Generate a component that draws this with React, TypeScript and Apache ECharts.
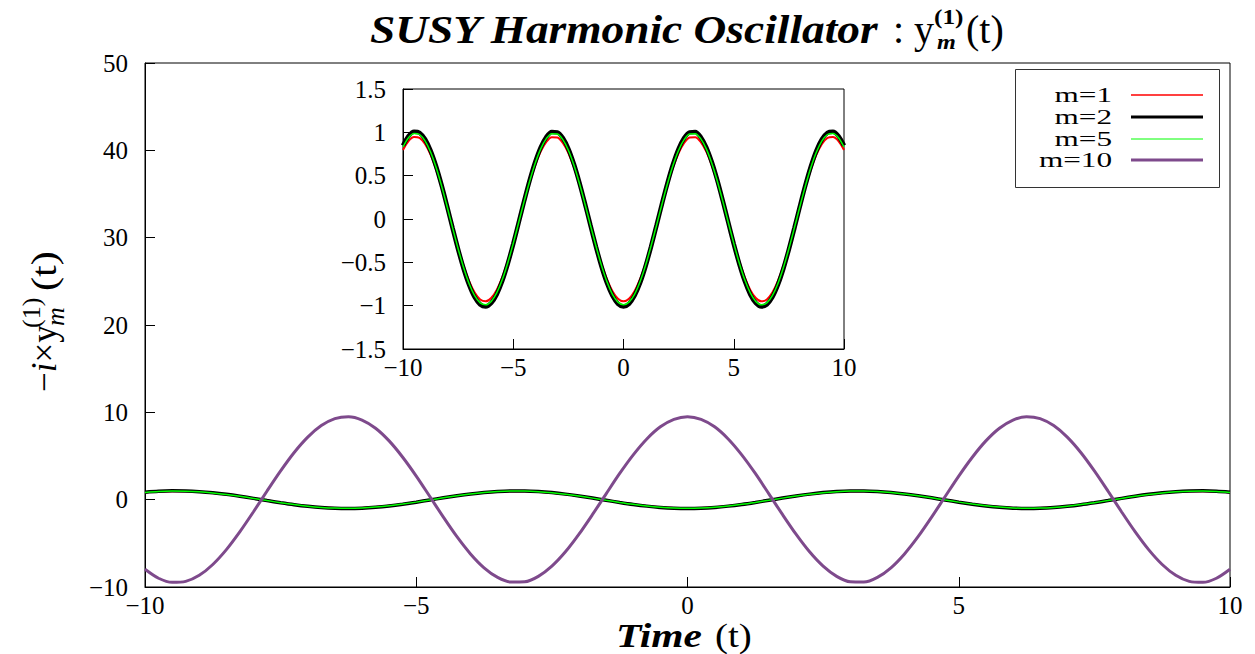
import React, { useEffect, useRef } from "react";
import * as echarts from "echarts";

// time samples (t)
const tValues = [-10, -9.75, -9.5, -9.25, -9, -8.75, -8.5, -8.25, -8, -7.75, -7.5, -7.25, -7, -6.75, -6.5, -6.25, -6, -5.75, -5.5, -5.25, -5, -4.75, -4.5, -4.25, -4, -3.75, -3.5, -3.25, -3, -2.75, -2.5, -2.25, -2, -1.75, -1.5, -1.25, -1, -0.75, -0.5, -0.25, 0, 0.25, 0.5, 0.75, 1, 1.25, 1.5, 1.75, 2, 2.25, 2.5, 2.75, 3, 3.25, 3.5, 3.75, 4, 4.25, 4.5, 4.75, 5, 5.25, 5.5, 5.75, 6, 6.25, 6.5, 6.75, 7, 7.25, 7.5, 7.75, 8, 8.25, 8.5, 8.75, 9, 9.25, 9.5, 9.75, 10];
// m = 1 (red)
const m1Values = [0.797, 0.9, 0.947, 0.936, 0.866, 0.742, 0.572, 0.366, 0.138, -0.099, -0.329, -0.54, -0.716, -0.848, -0.928, -0.95, -0.912, -0.818, -0.673, -0.486, -0.27, -0.036, 0.2, 0.424, 0.621, 0.78, 0.89, 0.944, 0.941, 0.878, 0.761, 0.597, 0.395, 0.169, -0.067, -0.3, -0.513, -0.695, -0.834, -0.92, -0.95, -0.92, -0.834, -0.695, -0.513, -0.3, -0.067, 0.169, 0.395, 0.597, 0.761, 0.878, 0.941, 0.944, 0.89, 0.78, 0.621, 0.424, 0.2, -0.036, -0.27, -0.486, -0.673, -0.818, -0.912, -0.95, -0.928, -0.848, -0.716, -0.54, -0.329, -0.099, 0.138, 0.366, 0.572, 0.742, 0.866, 0.936, 0.947, 0.9, 0.797];
// m = 2 (black)
const m2Values = [0.847, 0.957, 1.007, 0.995, 0.92, 0.789, 0.608, 0.39, 0.147, -0.105, -0.35, -0.574, -0.761, -0.902, -0.986, -1.01, -0.97, -0.87, -0.716, -0.517, -0.287, -0.038, 0.213, 0.451, 0.66, 0.829, 0.946, 1.004, 1.0, 0.934, 0.809, 0.634, 0.42, 0.18, -0.071, -0.318, -0.546, -0.739, -0.886, -0.979, -1.01, -0.979, -0.886, -0.739, -0.546, -0.318, -0.071, 0.18, 0.42, 0.634, 0.809, 0.934, 1.0, 1.004, 0.946, 0.829, 0.66, 0.451, 0.213, -0.038, -0.287, -0.517, -0.716, -0.87, -0.97, -1.01, -0.986, -0.902, -0.761, -0.574, -0.35, -0.105, 0.147, 0.39, 0.608, 0.789, 0.92, 0.995, 1.007, 0.957, 0.847];
// m = 5 (green)
const m5Values = [0.831, 0.938, 0.987, 0.975, 0.902, 0.773, 0.596, 0.382, 0.144, -0.103, -0.343, -0.562, -0.746, -0.884, -0.967, -0.99, -0.951, -0.853, -0.702, -0.507, -0.281, -0.037, 0.209, 0.442, 0.647, 0.812, 0.927, 0.984, 0.98, 0.915, 0.793, 0.622, 0.412, 0.176, -0.07, -0.312, -0.535, -0.724, -0.869, -0.959, -0.99, -0.959, -0.869, -0.724, -0.535, -0.312, -0.07, 0.176, 0.412, 0.622, 0.793, 0.915, 0.98, 0.984, 0.927, 0.812, 0.647, 0.442, 0.209, -0.037, -0.281, -0.507, -0.702, -0.853, -0.951, -0.99, -0.967, -0.884, -0.746, -0.562, -0.343, -0.103, 0.144, 0.382, 0.596, 0.773, 0.902, 0.975, 0.987, 0.938, 0.831];
// m = 10 (purple)
const m10Values = [-7.97, -9.0, -9.47, -9.36, -8.66, -7.42, -5.72, -3.66, -1.38, 0.99, 3.29, 5.4, 7.16, 8.48, 9.28, 9.5, 9.12, 8.18, 6.73, 4.86, 2.7, 0.36, -2.0, -4.24, -6.21, -7.8, -8.9, -9.44, -9.41, -8.78, -7.61, -5.97, -3.95, -1.69, 0.67, 3.0, 5.13, 6.95, 8.34, 9.2, 9.5, 9.2, 8.34, 6.95, 5.13, 3.0, 0.67, -1.69, -3.95, -5.97, -7.61, -8.78, -9.41, -9.44, -8.9, -7.8, -6.21, -4.24, -2.0, 0.36, 2.7, 4.86, 6.73, 8.18, 9.12, 9.5, 9.28, 8.48, 7.16, 5.4, 3.29, 0.99, -1.38, -3.66, -5.72, -7.42, -8.66, -9.36, -9.47, -9.0, -7.97];

const legendNames = ["m=1", "m=2", "m=5", "m=10"];
const seriesColors = ["#ff0000", "#000000", "#00ff00", "#7e4a8c"];

const mainXRange = [-10, 10, 5];
const mainYRange = [-10, 50, 10];
const insetXRange = [-10, 10, 5];
const insetYRange = [-1.5, 1.5, 0.5];

const SERIF = "'Liberation Serif', 'DejaVu Serif', serif";
const fmt = (v: number) => String(v).replace("-", "\u2212");
const pairs = (ys: number[]) => tValues.map((t, i) => [t, ys[i]]);

function axis(gridIndex: number, r: number[], margin: number) {
  return {
    type: "value",
    gridIndex,
    min: r[0],
    max: r[1],
    interval: r[2],
    axisLine: { show: true, onZero: false, lineStyle: { color: "#000", width: 1 } },
    axisTick: { show: true, inside: true, length: 10, lineStyle: { color: "#000", width: 1 } },
    axisLabel: {
      formatter: fmt,
      color: "#000",
      fontFamily: SERIF,
      fontSize: 25,
      margin,
      showMinLabel: true,
      showMaxLabel: true,
    },
    splitLine: { show: false },
  };
}

function txt(x: number, y: number, text: string, font: string, align = "left", extra: any = {}, vAlign = "middle") {
  return {
    type: "text",
    x,
    y,
    ...extra,
    style: {
      text,
      font,
      fill: "#000",
      textAlign: align,
      align,
      textVerticalAlign: vAlign,
      verticalAlign: vAlign,
    },
  };
}

export default function App() {
  const ref = useRef<HTMLDivElement>(null);
  useEffect(() => {
    const chart = echarts.init(ref.current!, undefined, { renderer: "svg", width: 1255, height: 654 });
    const lineSeries = (name: string, ys: number[], color: string, width: number, idx: number, z: number) => ({
      type: "line",
      name,
      data: pairs(ys),
      xAxisIndex: idx,
      yAxisIndex: idx,
      smooth: 0.3,
      showSymbol: false,
      symbol: "none",
      clip: true,
      z,
      lineStyle: { color, width },
      silent: true,
    });

    const legendY = [95, 117, 139, 160];
    const legendW = [1.5, 3, 1, 3];
    const legendEls: any[] = [
      {
        type: "rect",
        shape: { x: 1015.5, y: 69.5, width: 204, height: 118 },
        style: { fill: "none", stroke: "#333", lineWidth: 1 },
        z: 100,
      },
    ];
    legendNames.forEach((n, i) => {
      legendEls.push(txt(1112, legendY[i], n, `22px ${SERIF}`, "right", { scaleX: 1.42, z: 100 }));
      legendEls.push({
        type: "line",
        shape: { x1: 1131, y1: legendY[i], x2: 1203, y2: legendY[i] },
        style: { stroke: seriesColors[i], lineWidth: legendW[i] },
        z: 100,
      });
    });

    const titleEls: any[] = [
      txt(370, 29, "SUSY Harmonic Oscillator", `italic bold 40px ${SERIF}`, "left", { scaleX: 1.135 }),
      txt(893, 29, ": y", `40px ${SERIF}`),
      txt(934, 17, "(1)", `bold 22px ${SERIF}`, "left", { scaleX: 1.15 }),
      txt(937, 41, "m", `italic bold 22px ${SERIF}`, "left", { scaleX: 1.1 }),
      txt(966, 29, "(t)", `40px ${SERIF}`),
    ];

    const xNameEls: any[] = [
      txt(702, 652, "Time", `italic bold 34px ${SERIF}`, "right", { scaleX: 1.22 }, "bottom"),
      txt(715, 652, "(t)", `34px ${SERIF}`, "left", { scaleX: 1.15 }, "bottom"),
    ];

    const yName = {
      type: "group",
      x: 44,
      y: 392,
      rotation: Math.PI / 2,
      children: [
        {
          type: "text",
          x: 0,
          y: 0,
          style: {
            text: "{n|\u2212}{it|i}{n|\u00d7y}",
            fill: "#000",
            textAlign: "left",
            align: "left",
            textVerticalAlign: "middle",
            verticalAlign: "middle",
            rich: {
              n: { fontSize: 35, fontFamily: SERIF, fill: "#000" },
              it: { fontSize: 35, fontFamily: SERIF, fontStyle: "italic", fill: "#000" },
            },
          },
        },
        txt(64, -13, "(1)", `26px ${SERIF}`),
        txt(66, 11, "m", `italic 26px ${SERIF}`),
        txt(101, 0, "(t)", `35px ${SERIF}`, "left", { scaleX: 1.2 }),
      ],
    };

    chart.setOption({
      animation: false,
      backgroundColor: "#fff",
      grid: [
        { left: 145, top: 63, width: 1085, height: 524, show: true, borderColor: "#000", borderWidth: 1, backgroundColor: "#fff" },
        { left: 403, top: 89, width: 441, height: 260, show: true, borderColor: "#000", borderWidth: 1, backgroundColor: "#fff", z: 5 },
      ],
      xAxis: [axis(0, mainXRange, 6), { ...axis(1, insetXRange, 6), z: 6 }],
      yAxis: [axis(0, mainYRange, 17), { ...axis(1, insetYRange, 17), z: 6 }],
      series: [
        lineSeries("m=1", m1Values, seriesColors[0], 1.5, 0, 2),
        lineSeries("m=2", m2Values, seriesColors[1], 3.5, 0, 3),
        lineSeries("m=5", m5Values, seriesColors[2], 1.5, 0, 4),
        lineSeries("m=10", m10Values, seriesColors[3], 3, 0, 5),
        lineSeries("m=1", m1Values, seriesColors[0], 2, 1, 7),
        lineSeries("m=2", m2Values, seriesColors[1], 4.5, 1, 8),
        lineSeries("m=5", m5Values, seriesColors[2], 1.5, 1, 9),
      ],
      graphic: [...titleEls, ...xNameEls, yName, ...legendEls],
    });
    return () => chart.dispose();
  }, []);
  return <div ref={ref} style={{ position: "absolute", left: 0, top: 0, width: 1255, height: 654, background: "#fff" }} />;
}
